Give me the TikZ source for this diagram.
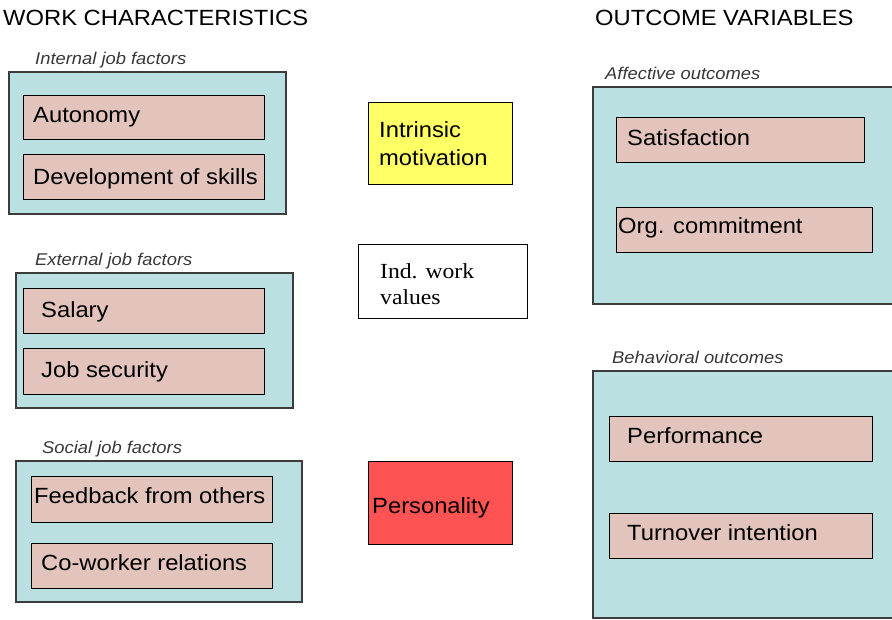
\documentclass[tikz,border=0pt]{standalone}
\usepackage{fontspec}
\newfontfamily\sansfam{Liberation Sans}[FakeStretch=1.08]
\newfontfamily\seriffam{Liberation Serif}[FakeStretch=1.1]
\definecolor{grpfill}{RGB}{186,224,226}
\definecolor{itemfill}{RGB}{226,196,188}
\definecolor{motfill}{RGB}{255,255,102}
\definecolor{persfill}{RGB}{255,82,82}
\definecolor{grpline}{RGB}{60,60,60}
\definecolor{labelgray}{RGB}{55,55,55}
\tikzset{
  grp/.style={draw=grpline, fill=grpfill, line width=1.3pt},
  item/.style={draw=black, fill=itemfill, line width=0.9pt},
  plainbox/.style={draw=black, line width=1pt},
  txt/.style={anchor=base west, inner sep=0pt, font=\sansfam\fontsize{22}{28}\selectfont},
  seriftxt/.style={anchor=base west, inner sep=0pt, font=\seriffam\fontsize{21.5}{27}\selectfont},
  grplabel/.style={anchor=base west, inner sep=0pt, text=labelgray, font=\sansfam\itshape\fontsize{17}{20}\selectfont},
}
\newcommand{\boxnode}[4]{% name, style, north-west corner, south-east corner
  \path[#2] #3 rectangle #4;
  \coordinate (#1) at ($#3!0.5!#4$);
}
\usetikzlibrary{calc}
\begin{document}
\begin{tikzpicture}[x=1pt, y=-1pt]
\useasboundingbox (0,0) rectangle (892,619);
\clip (0,0) rectangle (892,619);

% column headings
\node[txt] (hwork) at (3,25) {WORK CHARACTERISTICS};
\node[txt] (hout) at (595,25) {OUTCOME VARIABLES};

% internal job factors
\node[grplabel] (lint) at (35,64) {Internal job factors};
\boxnode{intgrp}{grp}{(9,72)}{(286,214)}
\boxnode{auto}{item}{(23,95)}{(264,139)}
\boxnode{devs}{item}{(23,154)}{(264,199)}
\node[txt] (tauto) at (33,122) {Autonomy};
\node[txt] (tdevs) at (33,184) {Development of skills};

% external job factors
\node[grplabel] (lext) at (35,265) {External job factors};
\boxnode{extgrp}{grp}{(16,273)}{(293,408)}
\boxnode{sal}{item}{(23,288)}{(264,333)}
\boxnode{sec}{item}{(23,348)}{(264,394)}
\node[txt] (tsal) at (41,317) {Salary};
\node[txt] (tsec) at (41,377) {Job security};

% social job factors
\node[grplabel] (lsoc) at (42,453) {Social job factors};
\boxnode{socgrp}{grp}{(16,461)}{(302,602)}
\boxnode{feed}{item}{(31,476)}{(272,522)}
\boxnode{cowk}{item}{(31,543)}{(272,588)}
\node[txt] (tfeed) at (34,503) {Feedback from others};
\node[txt] (tcowk) at (41,570) {Co-worker relations};

% middle column
\boxnode{intr}{plainbox, fill=motfill}{(368,102)}{(512,184)}
\node[txt] (tintr1) at (379,137) {Intrinsic};
\node[txt] (tintr2) at (379,165) {motivation};

\boxnode{vals}{plainbox, fill=white}{(358,244)}{(527,318)}
\node[seriftxt] (tvals1) at (380,278) {Ind. work};
\node[seriftxt] (tvals2) at (380,304) {values};

\boxnode{pers}{plainbox, fill=persfill}{(368,461)}{(512,544)}
\node[txt] (tpers) at (372,513) {Personality};

% affective outcomes
\node[grplabel] (laff) at (605,79) {Affective outcomes};
\boxnode{affgrp}{grp}{(593,87)}{(900,304)}
\boxnode{sat}{item}{(616,117)}{(864,162)}
\boxnode{com}{item}{(616,207)}{(872,252)}
\node[txt] (tsat) at (627,145) {Satisfaction};
\node[txt] (tcom) at (618,233) {Org. commitment};

% behavioral outcomes
\node[grplabel] (lbeh) at (612,363) {Behavioral outcomes};
\boxnode{behgrp}{grp}{(593,371)}{(900,618)}
\boxnode{perf}{item}{(609,416)}{(872,461)}
\boxnode{turn}{item}{(609,513)}{(872,558)}
\node[txt] (tperf) at (627,443) {Performance};
\node[txt] (tturn) at (627,540) {Turnover intention};
\end{tikzpicture}
\end{document}
